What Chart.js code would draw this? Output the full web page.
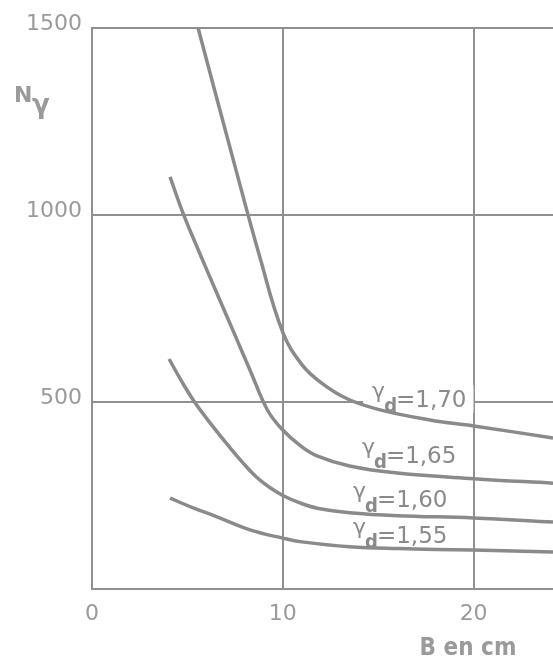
<!DOCTYPE html>
<html><head><meta charset="utf-8">
<script src="https://cdn.jsdelivr.net/npm/chart.js@4"></script>
<style>html,body{margin:0;padding:0;background:#fff;}#wrap{width:553px;height:657px;}</style>
</head><body><div id="wrap"><canvas id="c" width="553" height="657"></canvas></div>
<script>
// Tick labels
const xTicks = [0, 10, 20];
const yTicks = [500, 1000, 1500];
// Series names (gamma d values)
const seriesNames = ['1,70', '1,65', '1,60', '1,55'];
// B (cm) and N gamma values per curve
const b170 = [5.56, 7.39, 8.81, 10.0, 11.0, 12.0, 13.4, 15.1, 17.7, 20.0, 24.16];
const n170 = [1500, 1150, 885, 686, 600, 552, 508, 479, 452, 436, 404];
const b165 = [4.09, 4.77, 5.6, 6.55, 7.5, 8.3, 9.2, 10.0, 10.9, 11.79, 13.5, 16.0, 20.0, 24.16];
const n165 = [1102, 1005, 903, 790, 678, 583, 478, 425, 384, 356, 329, 310, 295, 283];
const b160 = [4.04, 4.7, 5.4, 6.3, 7.2, 7.9, 8.6, 9.3, 10.0, 10.9, 11.8, 13.5, 16.0, 20.0, 24.16];
const n160 = [615, 555, 498, 437, 380, 338, 300, 272, 250, 230, 216, 204, 196, 190, 179];
const b155 = [4.09, 5.3, 6.55, 8.28, 10.0, 11.0, 13.5, 16.0, 20.0, 24.16];
const n155 = [243, 217, 193, 158, 136, 126, 113, 108, 104, 99];

const LINE = '#8a8a8a';
const GRID = '#909090';
const TXT = '#9a9a9a';

function pts(bs, ns) { return bs.map((b, i) => ({x: b, y: ns[i]})); }
const curves = [[b170, n170], [b165, n165], [b160, n160], [b155, n155]];

// label anchors in data units (left of gamma, text baseline)
const labelAnchors = [{x: 14.68, y: 486}, {x: 14.15, y: 337}, {x: 13.68, y: 219}, {x: 13.68, y: 123}];

function labelParts(ctx, name) {
  ctx.font = '22px "DejaVu Sans"';
  const wg = ctx.measureText('γ').width;
  ctx.font = 'bold 20px "DejaVu Sans Condensed", "DejaVu Sans"';
  const wd = ctx.measureText('d').width;
  ctx.font = '23px "DejaVu Sans"';
  const wr = ctx.measureText('=' + name).width;
  return {wg, wd, wr};
}

const textPlugin = {
  id: 'texts',
  beforeDatasetsDraw(chart) {
    const ctx = chart.ctx, xs = chart.scales.x, ys = chart.scales.y;
    ctx.save();
    ctx.fillStyle = '#fff';
    labelAnchors.forEach((a, i) => {
      const px = xs.getPixelForValue(a.x), py = ys.getPixelForValue(a.y);
      const p = labelParts(ctx, seriesNames[i]);
      const w = p.wg + p.wd + p.wr;
      ctx.fillRect(px - 9, py - 22, w + 14, 28);
    });
    ctx.restore();
  },
  afterDatasetsDraw(chart) {
    const ctx = chart.ctx, xs = chart.scales.x, ys = chart.scales.y;
    ctx.save();
    ctx.fillStyle = LINE;
    ctx.textBaseline = 'alphabetic';
    ctx.textAlign = 'left';
    labelAnchors.forEach((a, i) => {
      const px = xs.getPixelForValue(a.x), py = ys.getPixelForValue(a.y);
      const p = labelParts(ctx, seriesNames[i]);
      ctx.font = '22px "DejaVu Sans"';
      ctx.fillText('γ', px, py - 9);
      ctx.font = 'bold 20px "DejaVu Sans Condensed", "DejaVu Sans"';
      ctx.fillText('d', px + p.wg - 1, py + 5);
      ctx.font = '23px "DejaVu Sans"';
      ctx.fillText('=' + seriesNames[i], px + p.wg + p.wd - 2, py);
    });
    // axis titles
    ctx.fillStyle = TXT;
    ctx.font = 'bold 22px "DejaVu Sans"';
    ctx.fillText('N', 14, 102);
    ctx.font = 'bold 26px "DejaVu Sans"';
    ctx.fillText('γ', 32, 113);
    ctx.font = 'bold 24px "DejaVu Sans Condensed", "DejaVu Sans"';
    ctx.textAlign = 'center';
    ctx.fillText('B en cm', 468, 655);
    ctx.restore();
  }
};

new Chart(document.getElementById('c'), {
  type: 'line',
  data: {
    datasets: curves.map((c, i) => ({
      label: 'γd=' + seriesNames[i],
      data: pts(c[0], c[1]),
      borderColor: LINE,
      borderWidth: 3.5,
      pointRadius: 0,
      fill: false,
      tension: 0.4
    }))
  },
  options: {
    responsive: false,
    animation: false,
    devicePixelRatio: 1,
    layout: {padding: {top: 28, left: 0, right: 0, bottom: 0}},
    plugins: {legend: {display: false}, tooltip: {enabled: false}},
    scales: {
      x: {
        type: 'linear', min: 0, max: 24.16,
        afterBuildTicks: s => { s.ticks = xTicks.map(v => ({value: v})); },
        afterFit: s => { s.height = 68; },
        grid: {color: GRID, lineWidth: 2, drawTicks: false},
        border: {display: true, color: GRID, width: 2},
        ticks: {padding: 12, color: TXT, font: {family: 'DejaVu Sans', size: 22}, callback: v => String(v), maxRotation: 0}
      },
      y: {
        type: 'linear', min: 0, max: 1500,
        afterBuildTicks: s => { s.ticks = [0].concat(yTicks).map(v => ({value: v})); },
        afterFit: s => { s.width = 92; },
        grid: {color: GRID, lineWidth: 2, drawTicks: false},
        border: {display: true, color: GRID, width: 2},
        ticks: {padding: 10, labelOffset: -4, color: TXT, font: {family: 'DejaVu Sans', size: 22}, callback: v => v === 0 ? '' : String(v)}
      }
    }
  },
  plugins: [textPlugin]
});
</script>
</body></html>
